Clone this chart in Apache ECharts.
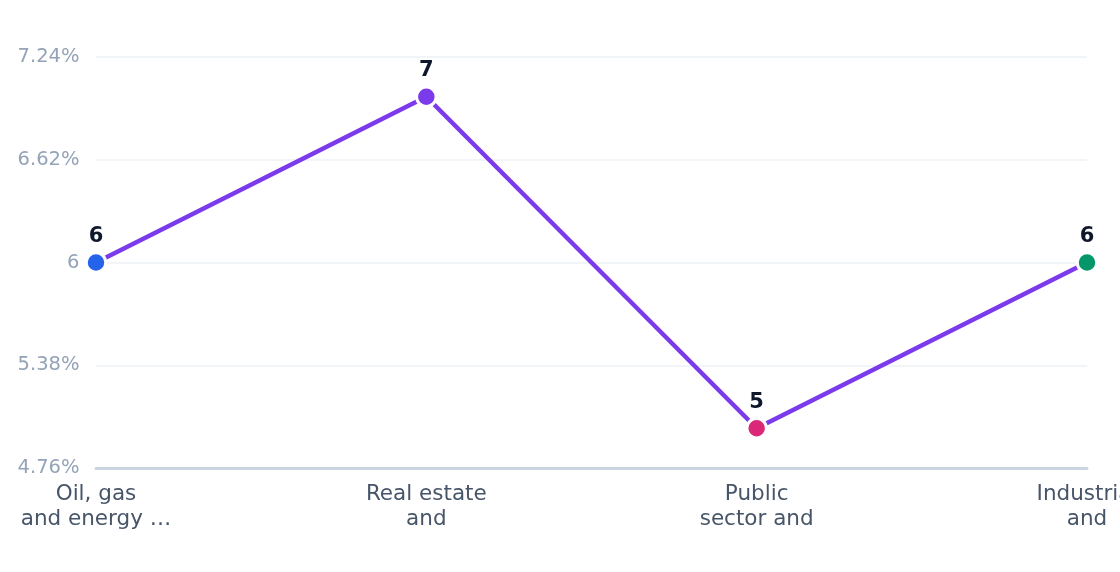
<!DOCTYPE html>
<html><head><meta charset="utf-8">
<script src="https://cdn.jsdelivr.net/npm/echarts@6/dist/echarts.min.js"></script>
<style>html,body{margin:0;padding:0;background:#fff}#c{width:1120px;height:572px}</style>
</head><body><div id="c"></div>
<script>
const categories = ["Oil, gas\nand energy …", "Real estate\nand", "Public\nsector and", "Industrial\nand"];
const values = [6, 7, 5, 6];
const pointColors = ["#2563eb", "#7c3aed", "#db2777", "#059669"];
const yMin = 4.76, yMax = 7.24, yStep = 0.62;
const yTickLabels = ["4.76%", "5.38%", "6", "6.62%", "7.24%"];

const chart = echarts.init(document.getElementById('c'), null, {renderer: 'canvas'});
chart.setOption({
  animation: false,
  grid: {left: 96, right: 33, top: 57, bottom: 104, containLabel: false, outerBoundsMode: 'none'},
  xAxis: {
    type: 'category', data: categories, boundaryGap: false,
    axisLine: {lineStyle: {color: '#cbd5e1', width: 3}},
    axisTick: {show: false},
    axisLabel: {color: '#475569', fontSize: 21.5, lineHeight: 25.5, margin: 13.5, fontFamily: 'DejaVu Sans', interval: 0, hideOverlap: false}
  },
  yAxis: {
    type: 'value', min: yMin, max: yMax, interval: yStep,
    axisLine: {show: false}, axisTick: {show: false},
    splitLine: {lineStyle: {color: '#eef2f6', width: 1.5}},
    axisLabel: {color: '#94a3b8', fontSize: 19.5, margin: 16.5, fontFamily: 'DejaVu Sans',
      formatter: (v, i) => yTickLabels[i]}
  },
  series: [{
    type: 'line', data: values.map((v, i) => ({value: v, itemStyle: {color: pointColors[i]}})),
    lineStyle: {color: '#7c3aed', width: 4.5},
    symbol: 'circle', symbolSize: 19.5,
    itemStyle: {borderColor: '#fff', borderWidth: 3},
    label: {show: true, position: 'top', distance: 4, color: '#0f172a', fontWeight: 'bold', fontSize: 21, fontFamily: 'DejaVu Sans'}
  }]
});
</script></body></html>
